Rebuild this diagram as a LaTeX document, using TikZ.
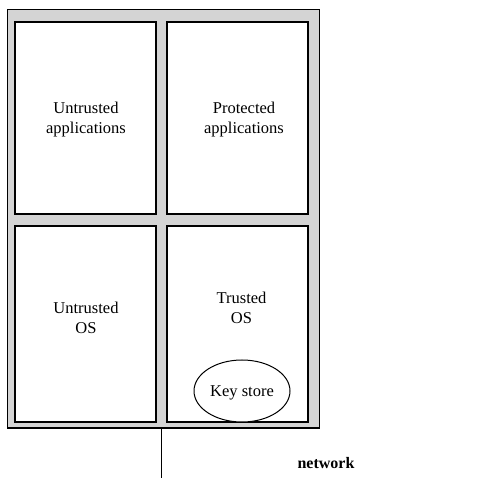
\documentclass[tikz,border=0pt]{standalone}
\usepackage{fontspec}
\setmainfont{Liberation Serif}
\usepackage{tikz}
\usetikzlibrary{shapes,positioning,calc}
\tikzset{
  frame/.style={rectangle, draw=black, line width=1.6pt, fill=black!17,
                minimum width=312pt, minimum height=418pt, inner sep=0pt},
  part/.style={rectangle, draw=black, line width=1.5pt, fill=white,
               minimum width=141pt, minimum height=#1, inner sep=0pt},
  label/.style={align=center, font=\fontsize{16.5}{20}\selectfont},
  store/.style={ellipse, draw=black, line width=1pt, fill=white,
                minimum width=96pt, minimum height=62pt, inner sep=0pt}
}

\begin{document}
\begin{tikzpicture}[x=1pt,y=-1pt]
    \useasboundingbox (0,0) rectangle (501,478);
    % Outer frame
    \node (frame) [frame] at (163.5,218.7) {};
    % Four parts
    \node (ua) [part=192pt] at (85.5,118) {};
    \node (pa) [part=192pt] at (237.5,118) {};
    \node (uo) [part=196pt] at (85.5,324) {};
    \node (to) [part=196pt] at (237.5,324) {};
    \node (keys) [store] at (242,391) {};
    % Texts
    \node (uatext) [label] at (86,120) {Untrusted\\applications};
    \node (patext) [label] at (244,120) {Protected\\applications};
    \node (uotext) [label] at (86,318) {Untrusted\\OS};
    \node (totext) [label] at (241.5,308) {Trusted\\OS};
    \node (keytext) [label] at (242,393) {Key store};
    \node (nettext) [label, font=\fontsize{16}{20}\selectfont\bfseries] at (326,463) {network};
    % Network line
    \coordinate (net) at (161,478);
    \draw [line width=1pt] (frame.south -| net) -- (net);
\end{tikzpicture}
\end{document}
